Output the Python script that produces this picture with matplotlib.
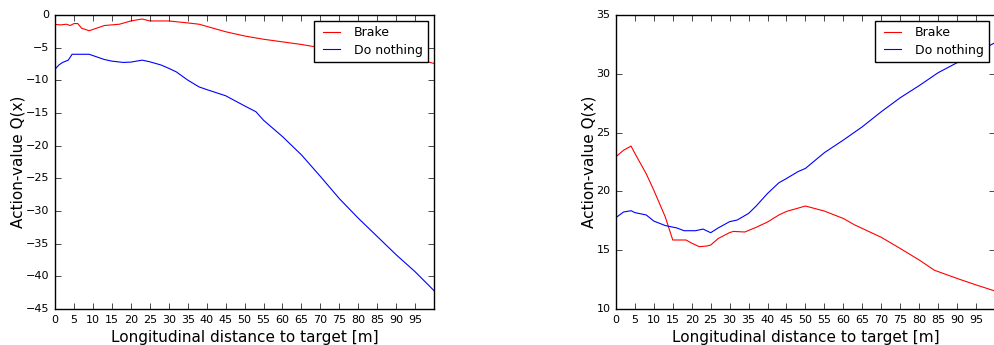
import numpy as np
import matplotlib.pyplot as plt

plt.style.use('classic')

# left panel
x_l_brake = [0, 1.5, 3, 4, 5, 6, 7, 9, 10, 13, 17, 20, 23, 25, 30, 35, 38, 45, 50,
             55, 60, 65, 70, 75, 80, 85, 90, 95, 100]
y_l_brake = [-1.43, -1.5, -1.4, -1.6, -1.3, -1.3, -2.0, -2.4, -2.2, -1.6, -1.4, -0.9,
             -0.6, -0.9, -0.9, -1.2, -1.4, -2.55, -3.2, -3.7, -4.1, -4.5, -5.0, -5.4,
             -5.8, -6.1, -6.4, -6.7, -7.4]
x_l_none = [0, 1, 2, 3.5, 4.5, 9, 13, 15, 18, 20, 23, 25, 28, 30, 32, 35, 38, 40, 45,
            50, 53, 55, 60, 65, 70, 75, 80, 85, 90, 95, 100]
y_l_none = [-8.3, -7.65, -7.25, -6.9, -6.0, -6.0, -6.8, -7.05, -7.25, -7.2, -6.9,
            -7.15, -7.65, -8.15, -8.7, -9.95, -11.0, -11.4, -12.35, -13.9, -14.8,
            -16.1, -18.6, -21.4, -24.7, -28.1, -31.1, -33.9, -36.7, -39.3, -42.2]

# right panel
x_r_brake = [0, 2, 4, 5, 8, 10, 13, 15, 18.5, 20, 22, 24, 25, 27, 30, 31, 34, 37, 40,
             43, 45, 50, 55, 60, 63, 65, 70, 75, 80, 84, 90, 95, 100]
y_r_brake = [22.95, 23.5, 23.86, 23.24, 21.5, 20.1, 17.85, 15.87, 15.87, 15.6, 15.3,
             15.36, 15.44, 16.0, 16.5, 16.6, 16.55, 16.95, 17.4, 18.0, 18.3, 18.76,
             18.33, 17.7, 17.15, 16.85, 16.1, 15.15, 14.17, 13.3, 12.6, 12.05, 11.53]
x_r_none = [0, 2, 4, 5, 8, 10, 13, 16, 18, 21, 23, 25, 27, 30, 32, 35, 37, 40, 43, 45,
            48, 50, 55, 60, 65, 70, 75, 80, 85, 90, 95, 100]
y_r_none = [17.77, 18.25, 18.36, 18.2, 18.0, 17.48, 17.1, 16.9, 16.66, 16.66, 16.8,
            16.49, 16.9, 17.43, 17.57, 18.13, 18.76, 19.83, 20.74, 21.1, 21.68, 21.96,
            23.3, 24.37, 25.5, 26.78, 27.97, 29.0, 30.1, 30.95, 31.8, 32.65]

fig = plt.figure(figsize=(9.95, 3.45), dpi=100, facecolor='white')
ax1 = fig.add_axes([0.0553, 0.1043, 0.381, 0.852])
ax2 = fig.add_axes([0.619, 0.1043, 0.381, 0.852])

panels = [(ax1, x_l_brake, y_l_brake, x_l_none, y_l_none, (-45, 0)),
          (ax2, x_r_brake, y_r_brake, x_r_none, y_r_none, (10, 35))]

for ax, xb, yb, xn, yn, ylim in panels:
    ax.plot(xb, yb, color='r', lw=0.8, label='Brake')
    ax.plot(xn, yn, color='b', lw=0.8, label='Do nothing')
    ax.set_xlim(0, 100)
    ax.set_ylim(*ylim)
    ax.set_xticks(np.arange(0, 100, 5))
    ax.tick_params(labelsize=8)
    ax.set_xlabel('Longitudinal distance to target [m]', fontsize=11, labelpad=4)
    ax.set_ylabel('Action-value Q(x)', fontsize=11, labelpad=0)
    ax.legend(loc='upper right', fontsize=9, labelspacing=0.35)

fig.savefig('out.png', dpi=100, facecolor='white')
